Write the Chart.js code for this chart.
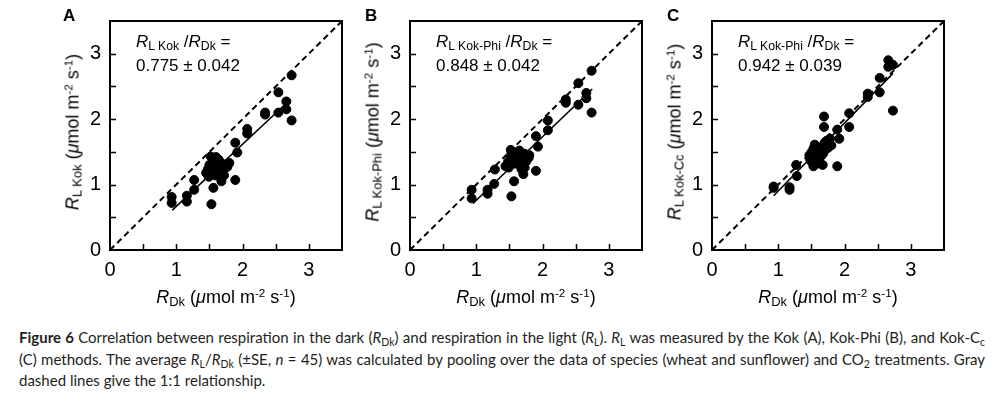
<!DOCTYPE html>
<html lang="en">
<head>
    <meta charset="UTF-8">
    <title>Figure 6</title>
    <style>
        body { margin: 0; padding: 0; background: #fff; }
        #wrap { position: relative; width: 996px; height: 393px; overflow: hidden; }
        canvas { position: absolute; top: 0; }
        .t { position: absolute; font-family: "Liberation Sans", Arial, sans-serif; color: #000; white-space: nowrap; }
        .t i { font-style: italic; }
        .t sub { font-size: 72%; vertical-align: -0.22em; line-height: 0; }
        .t sup { font-size: 65%; vertical-align: 0.55em; line-height: 0; }
        .letter { font-weight: bold; font-size: 17px; }
        .note { font-size: 17px; line-height: 24px; }
        .xt { font-size: 18px; transform: translateX(-50%); }
        .yt { font-size: 18px; transform: translate(-50%, -50%) rotate(-90deg); }
        #cap { position: absolute; left: 19px; top: 327px; width: 966px; font-family: Lato, "Open Sans", sans-serif;
               font-size: 15px; line-height: 21.5px; color: #231f20; }
        #cap div { text-align: justify; text-align-last: justify; }
        #cap div.last { text-align-last: left; }
        #cap sub { font-size: 70%; vertical-align: -0.25em; line-height: 0; }
    </style>
    <script src="https://cdn.jsdelivr.net/npm/chart.js@4.4.0/dist/chart.umd.min.js"></script>
</head>
<body>
<div id="wrap">
    <canvas id="cA" width="350" height="290" style="left:0px"></canvas>
    <canvas id="cB" width="350" height="290" style="left:300px"></canvas>
    <canvas id="cC" width="350" height="290" style="left:602px"></canvas>

    <div class="t letter" style="left:63px;top:6px">A</div>
    <div class="t letter" style="left:365px;top:6px">B</div>
    <div class="t letter" style="left:667px;top:6px">C</div>

    <div class="t note" style="left:136px;top:30px"><i>R</i><sub>L Kok</sub> /<i>R</i><sub>Dk</sub> =<br>0.775 ± 0.042</div>
    <div class="t note" style="left:436px;top:30px"><i>R</i><sub>L Kok-Phi</sub> /<i>R</i><sub>Dk</sub> =<br>0.848 ± 0.042</div>
    <div class="t note" style="left:738px;top:30px"><i>R</i><sub>L Kok-Phi</sub> /<i>R</i><sub>Dk</sub> =<br>0.942 ± 0.039</div>

    <div class="t xt" style="left:226px;top:287px"><i>R</i><sub>Dk</sub> (<i>μ</i>mol m<sup>-2</sup> s<sup>-1</sup>)</div>
    <div class="t xt" style="left:526px;top:287px"><i>R</i><sub>Dk</sub> (<i>μ</i>mol m<sup>-2</sup> s<sup>-1</sup>)</div>
    <div class="t xt" style="left:828px;top:287px"><i>R</i><sub>Dk</sub> (<i>μ</i>mol m<sup>-2</sup> s<sup>-1</sup>)</div>

    <div class="t yt" style="left:73px;top:132px"><i>R</i><sub>L Kok</sub> (<i>μ</i>mol m<sup>-2</sup> s<sup>-1</sup>)</div>
    <div class="t yt" style="left:373px;top:132px"><i>R</i><sub>L Kok-Phi</sub> (<i>μ</i>mol m<sup>-2</sup> s<sup>-1</sup>)</div>
    <div class="t yt" style="left:675px;top:132px"><i>R</i><sub>L Kok-Cc</sub> (<i>μ</i>mol m<sup>-2</sup> s<sup>-1</sup>)</div>

    <div id="cap">
        <div><b>Figure 6</b> Correlation between respiration in the dark (<i>R</i><sub>Dk</sub>) and respiration in the light (<i>R</i><sub>L</sub>). <i>R</i><sub>L</sub> was measured by the Kok (A), Kok-Phi (B), and Kok-C<sub>c</sub></div>
        <div>(C) methods. The average <i>R</i><sub>L</sub>/<i>R</i><sub>Dk</sub> (±SE, <i>n</i> = 45) was calculated by pooling over the data of species (wheat and sunflower) and CO<sub>2</sub> treatments. Gray</div>
        <div class="last">dashed lines give the 1:1 relationship.</div>
    </div>
</div>

<script>
    // panel A: Kok
    var kokDark  = [0.93, 0.93, 1.16, 1.16, 1.27, 1.27, 1.53, 1.56, 1.52, 1.48, 1.49, 1.54, 1.59, 1.64, 1.69,
                    1.68, 1.72, 1.77, 1.89, 1.89, 1.92, 2.07, 2.07, 2.34, 2.34, 2.54, 2.54, 2.66, 2.66, 2.74,
                    2.74, 1.52, 1.62, 1.57, 1.47, 1.67, 1.74, 1.59, 1.50, 1.55, 1.65, 1.60, 1.70, 1.45, 1.80];
    var kokLight = [0.81, 0.72, 0.83, 0.74, 1.07, 0.92, 0.70, 0.95, 1.43, 1.24, 1.12, 1.32, 1.34, 1.38, 1.32,
                    1.05, 1.14, 1.27, 1.07, 1.64, 1.49, 1.85, 1.78, 2.10, 2.07, 2.41, 2.10, 2.27, 2.15, 2.67,
                    1.98, 1.22, 1.27, 1.38, 1.16, 1.24, 1.29, 1.14, 1.30, 1.20, 1.35, 1.42, 1.20, 1.18, 1.33];
    var kokFit   = [[0.94, 0.61], [2.72, 2.30]];

    // panel B: Kok-Phi
    var phiDark  = [0.93, 0.93, 1.17, 1.17, 1.28, 1.27, 1.53, 1.57, 1.52, 1.52, 1.49, 1.57, 1.61, 1.67, 1.73,
                    1.79, 1.68, 1.71, 1.73, 1.90, 1.90, 1.93, 2.08, 2.08, 2.35, 2.35, 2.54, 2.54, 2.66, 2.66,
                    2.74, 2.74, 1.50, 1.55, 1.60, 1.65, 1.70, 1.58, 1.48, 1.62, 1.75, 1.68, 1.53, 1.80, 1.44];
    var phiLight = [0.92, 0.79, 0.92, 0.86, 1.23, 1.01, 0.82, 1.05, 1.53, 1.41, 1.26, 1.36, 1.49, 1.46, 1.47,
                    1.41, 1.24, 1.16, 1.26, 1.21, 1.74, 1.58, 1.98, 1.83, 2.30, 2.25, 2.55, 2.22, 2.40, 2.32,
                    2.74, 2.10, 1.30, 1.45, 1.38, 1.52, 1.40, 1.32, 1.35, 1.43, 1.35, 1.30, 1.47, 1.45, 1.28];
    var phiFit   = [[0.95, 0.71], [2.75, 2.46]];

    // panel C: Kok-Cc
    var ccDark   = [0.93, 0.93, 1.17, 1.17, 1.27, 1.28, 1.53, 1.67, 1.69, 1.69, 1.89, 1.92, 1.89, 2.07, 2.07,
                    2.35, 2.35, 2.53, 2.53, 2.66, 2.66, 2.73, 2.73, 1.50, 1.48, 1.55, 1.60, 1.65, 1.70, 1.75,
                    1.60, 1.65, 1.52, 1.73, 1.50, 1.55, 1.62, 1.58, 1.68, 1.72, 1.80, 1.47, 1.63, 1.78, 1.53];
    var ccLight  = [0.95, 0.97, 0.96, 0.92, 1.30, 1.13, 1.28, 1.30, 2.04, 1.88, 1.28, 1.70, 1.84, 2.09, 1.88,
                    2.39, 2.34, 2.63, 2.41, 2.90, 2.80, 2.83, 2.13, 1.49, 1.39, 1.61, 1.46, 1.51, 1.64, 1.56,
                    1.36, 1.44, 1.42, 1.67, 1.35, 1.50, 1.55, 1.40, 1.48, 1.58, 1.60, 1.45, 1.32, 1.70, 1.55];
    var ccFit    = [[0.93, 0.83], [2.73, 2.70]];

    var oneToOne = [[0, 0], [3.5, 3.5]];
    var axisMin = 0, axisMax = 3.5, tickStep = 0.5;

    // box around the plot plus inward ticks on bottom and left
    var framePlugin = {
        id: 'frame',
        afterDraw: function(chart) {
            var ctx = chart.ctx, a = chart.chartArea;
            var sx = chart.scales.x, sy = chart.scales.y;
            ctx.save();
            ctx.strokeStyle = '#000';
            ctx.lineWidth = 2;
            ctx.strokeRect(a.left, a.top, a.right - a.left, a.bottom - a.top);
            ctx.lineWidth = 1.5;
            ctx.beginPath();
            sx.ticks.forEach(function(t) {
                if (t.value <= axisMin || t.value >= axisMax) return;
                var px = Math.round(sx.getPixelForValue(t.value)) + 0.5;
                ctx.moveTo(px, a.bottom);
                ctx.lineTo(px, a.bottom - 6);
            });
            sy.ticks.forEach(function(t) {
                if (t.value <= axisMin || t.value >= axisMax) return;
                var py = Math.round(sy.getPixelForValue(t.value)) + 0.5;
                ctx.moveTo(a.left, py);
                ctx.lineTo(a.left + 6, py);
            });
            ctx.stroke();
            ctx.restore();
        }
    };

    function toPoints(xs, ys) {
        return xs.map(function(x, i) { return { x: x, y: ys[i] }; });
    }
    function pairs(list) {
        return list.map(function(p) { return { x: p[0], y: p[1] }; });
    }

    function axis(isX) {
        return {
            type: 'linear',
            min: axisMin,
            max: axisMax,
            grid: { display: false, drawTicks: false },
            border: { display: false },
            ticks: {
                stepSize: tickStep,
                autoSkip: false,
                maxRotation: 0,
                padding: isX ? 8 : 9,
                color: '#000',
                font: { family: 'Liberation Sans', size: 20 },
                callback: function(v) { return Number.isInteger(v) ? String(v) : ''; }
            },
            afterFit: function(s) {
                if (isX) s.height = 40; else s.width = 110;
            }
        };
    }

    function makePanel(id, xs, ys, fit) {
        new Chart(document.getElementById(id), {
            type: 'scatter',
            data: {
                datasets: [
                    { type: 'line', data: pairs(oneToOne), borderColor: '#000', borderWidth: 2,
                      borderDash: [6, 4], pointRadius: 0, order: 2 },
                    { type: 'line', data: pairs(fit), borderColor: '#000', borderWidth: 1.6,
                      pointRadius: 0, order: 1 },
                    { data: toPoints(xs, ys), backgroundColor: '#000', borderColor: '#000',
                      pointRadius: 4.5, order: 0 }
                ]
            },
            options: {
                responsive: false,
                animation: false,
                devicePixelRatio: 1,
                layout: { padding: { top: 18, right: 8, left: 0, bottom: 0 } },
                plugins: { legend: { display: false }, tooltip: { enabled: false } },
                scales: { x: axis(true), y: axis(false) }
            },
            plugins: [framePlugin]
        });
    }

    makePanel('cA', kokDark, kokLight, kokFit);
    makePanel('cB', phiDark, phiLight, phiFit);
    makePanel('cC', ccDark, ccLight, ccFit);
</script>
</body>
</html>
